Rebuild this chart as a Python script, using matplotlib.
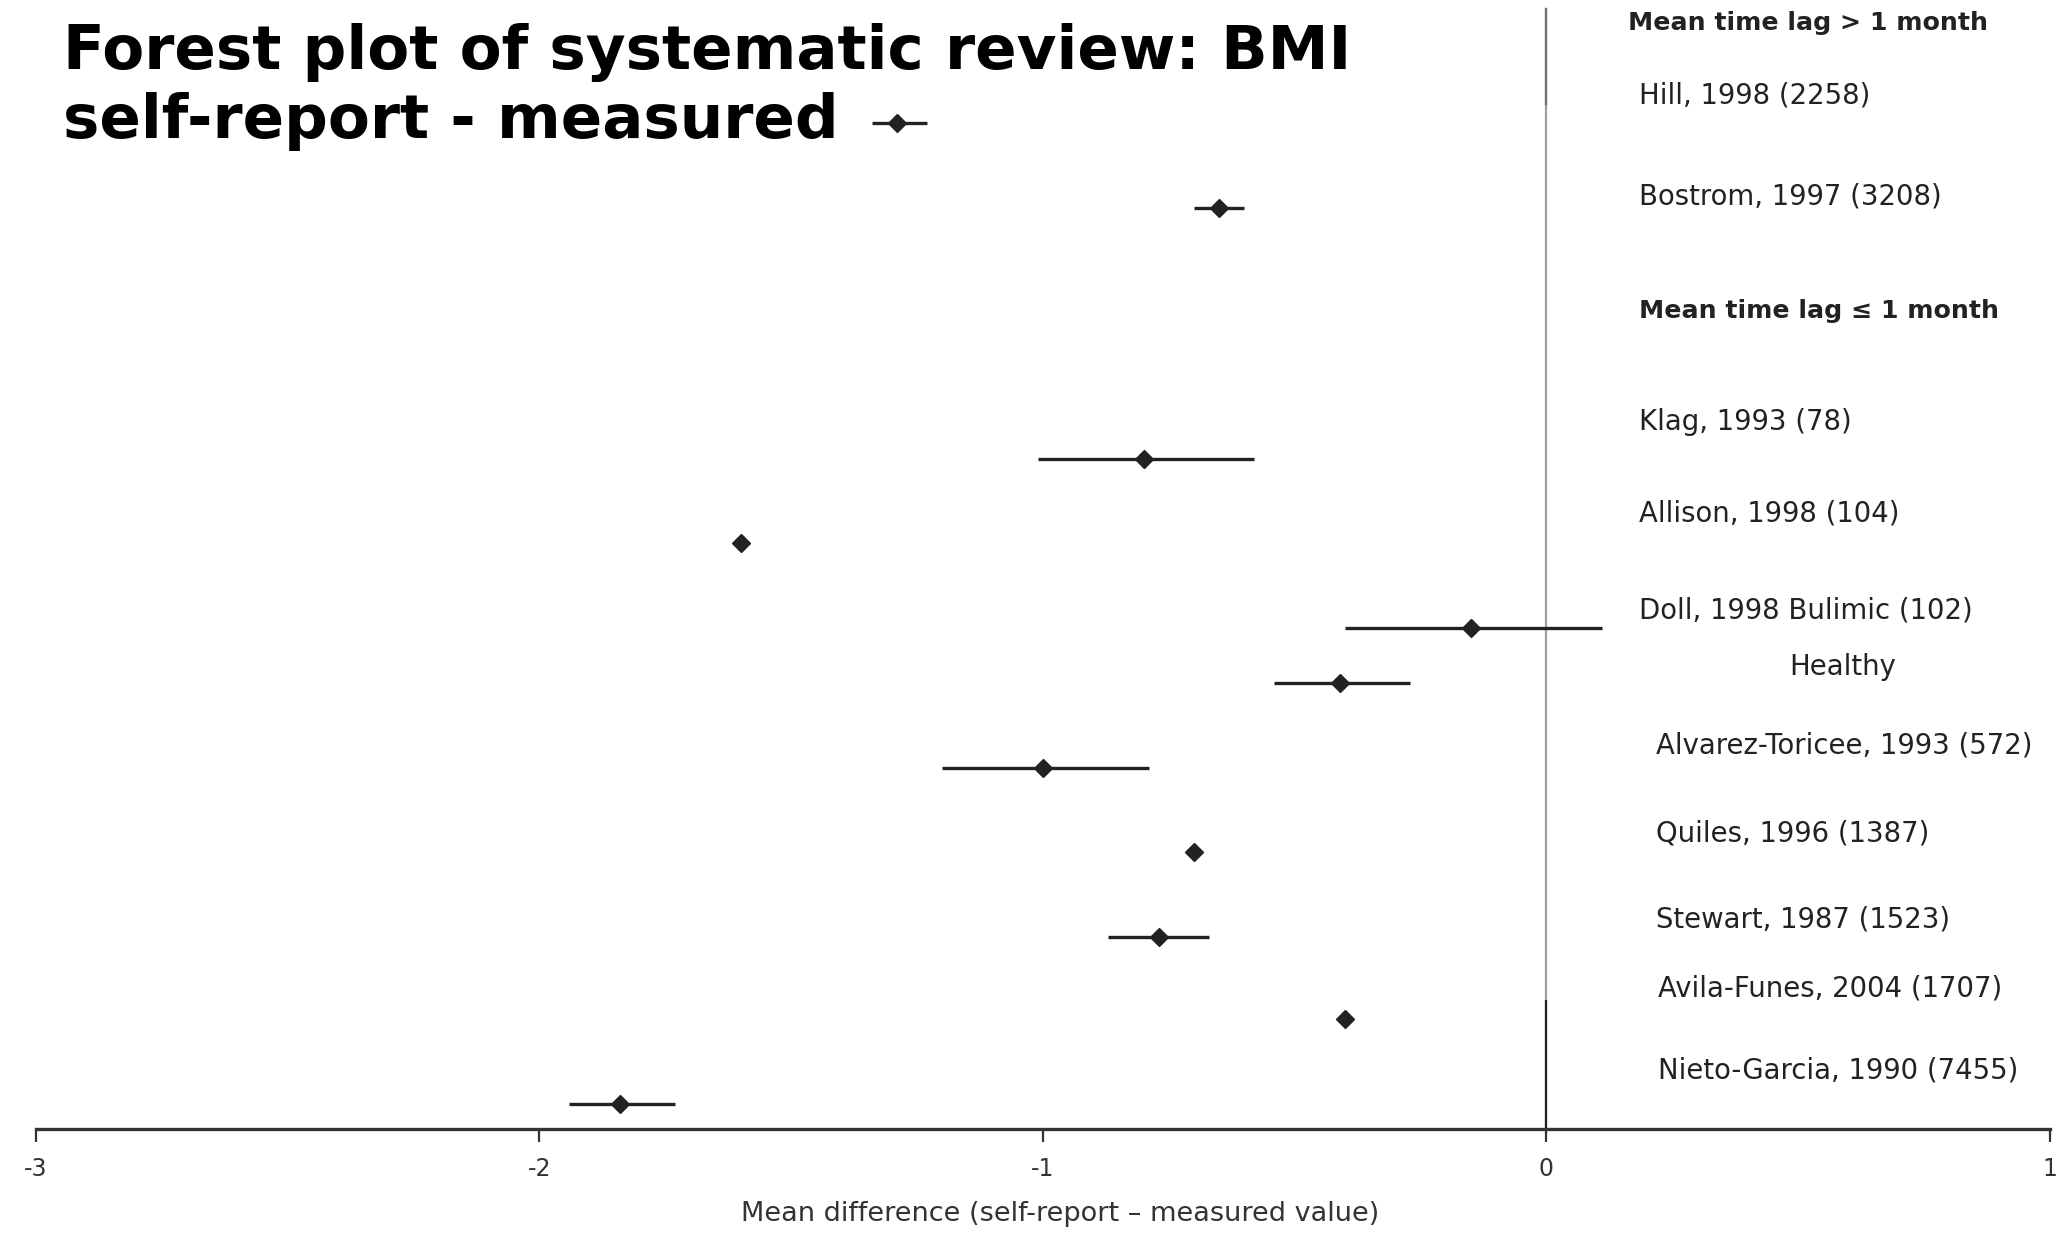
import matplotlib
matplotlib.use("Agg")
import matplotlib.pyplot as plt

plt.rcParams["font.family"] = ["DejaVu Sans"]
plt.rcParams["axes.unicode_minus"] = False

# mean difference (self-report - measured) with confidence limits
studies = ["Hill, 1998 (2258)", "Bostrom, 1997 (3208)", "Klag, 1993 (78)",
           "Allison, 1998 (104)", "Doll, 1998 Bulimic (102)", "Healthy",
           "Alvarez-Toricee, 1993 (572)", "Quiles, 1996 (1387)",
           "Stewart, 1987 (1523)", "Avila-Funes, 2004 (1707)",
           "Nieto-Garcia, 1990 (7455)"]
mean_diff = [-1.29, -0.65, -0.80, -1.60, -0.15, -0.41, -1.00, -0.70, -0.77, -0.40, -1.84]
ci_low = [-1.34, -0.70, -1.01, -1.60, -0.40, -0.54, -1.20, -0.70, -0.87, -0.40, -1.94]
ci_high = [-1.23, -0.60, -0.58, -1.60, 0.11, -0.27, -0.79, -0.70, -0.67, -0.40, -1.73]
groups = ["Mean time lag > 1 month", "Mean time lag \u2264 1 month"]
xticks = [-3, -2, -1, 0, 1]

# layout: row heights of markers and labels
mark_y = [11.92, 10.92, 7.94, 6.94, 5.94, 5.28, 4.28, 3.28, 2.28, 1.30, 0.30]
label_y = [12.25, 11.05, 8.375, 7.30, 6.14, 5.48, 4.55, 3.50, 2.48, 1.66, 0.69]
label_x = [0.183, 0.183, 0.183, 0.183, 0.183, 0.482, 0.217, 0.217, 0.217, 0.2225, 0.2225]
group_y = [13.11, 9.69]
group_x = [0.162, 0.183]

fig = plt.figure(figsize=(20.67, 12.34), dpi=100)
ax = fig.add_axes([0.0172, 0.0851, 0.9746, 0.9149])
ax.set_xlim(-3, 1)
ax.set_ylim(0, 13.38)

# line of no difference
ax.plot([0, 0], [0, 13.27], color="#a0a0a0", lw=1.6, zorder=1)
ax.plot([0, 0], [12.15, 13.27], color="#707070", lw=1.6, zorder=1)
ax.plot([0, 0], [0, 1.52], color="#222222", lw=1.6, zorder=1)

for m, lo, hi, y in zip(mean_diff, ci_low, ci_high, mark_y):
    ax.plot([lo, hi], [y, y], color="#222222", lw=2.4, solid_capstyle="butt", zorder=2)
    ax.plot(m, y, marker="D", ms=9, color="#222222", zorder=3)

for s, x, y in zip(studies, label_x, label_y):
    ax.text(x, y, s, fontsize=19.8, color="#222222", va="center", ha="left")
for g, x, y in zip(groups, group_x, group_y):
    ax.text(x, y, g, fontsize=18.2, fontweight="bold", color="#222222", va="center", ha="left")

for side in ["left", "right", "top"]:
    ax.spines[side].set_visible(False)
ax.spines["bottom"].set_linewidth(2.4)
ax.spines["bottom"].set_color("#333333")
ax.set_yticks([])
ax.set_xticks(xticks)
ax.set_xticklabels([str(t) for t in xticks])
ax.tick_params(axis="x", direction="out", length=9.5, width=1.6, pad=11,
               labelsize=17, colors="#333333")

fig.text(0.5128, 0.0162, "Mean difference (self-report \u2013 measured value)",
         fontsize=19.5, color="#333333", ha="center", va="center")

fig.text(0.0306, 1 - 69 / 1234, "Forest plot of systematic review: BMI",
         fontsize=44, fontweight="bold", color="black", va="baseline")
fig.text(0.0306, 1 - 138 / 1234, "self-report - measured",
         fontsize=44, fontweight="bold", color="black", va="baseline")

fig.savefig("out.png", dpi=100, facecolor="white")
